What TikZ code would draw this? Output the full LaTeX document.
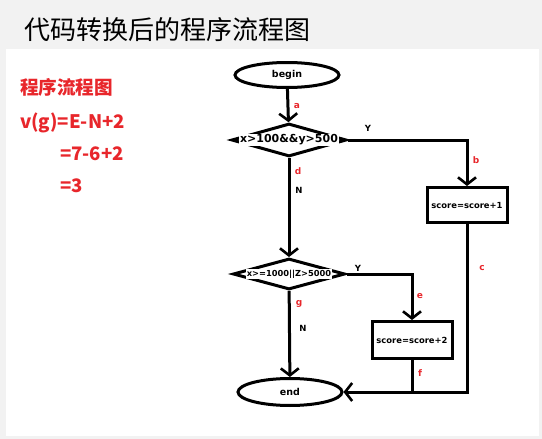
\documentclass[tikz,border=0pt]{standalone}
\usepackage{fontspec}
\setmainfont{DejaVu Sans}
\newfontfamily\cjk{Noto Sans CJK SC}
\usetikzlibrary{shapes.geometric, arrows.meta}
\definecolor{bggray}{HTML}{F2F2F2}
\definecolor{notered}{HTML}{E8262B}

\begin{document}
\begin{tikzpicture}[x=1pt, y=-1pt,
    line/.style={line width=3pt},
    flow/.style={line, -{Straight Barb[length=7pt, width=18pt, line width=2.6pt]}},
    terminal/.style={ellipse, draw, line width=3pt, inner sep=0pt, font=\bfseries\fontsize{9.5}{10}\selectfont},
    decision/.style={diamond, draw, line width=3pt, inner sep=0pt},
    condtext/.style={fill=white, inner sep=0.6pt, font=\bfseries\fontsize{#1}{12}\selectfont},
    process/.style={rectangle, draw, line width=3pt, inner sep=0pt, minimum width=80pt, font=\bfseries\fontsize{8.4}{10}\selectfont},
    edgelabel/.style={text=notered, font=\bfseries\fontsize{9}{10}\selectfont},
    branch/.style={font=\bfseries\fontsize{8.5}{10}\selectfont},
    notes/.style={text=notered, anchor=base west, font=\cjk\bfseries\fontsize{18.6}{20}\selectfont}]
    \useasboundingbox (0,0) rectangle (542,439);

    % page
    \fill[bggray] (0,0) rectangle (542,439);
    \fill[white] (6,49) rectangle (539,436);
    \node[anchor=base west, inner sep=0pt, font=\cjk\fontsize{26}{28}\selectfont] (title) at (24,39) {代码转换后的程序流程图};

    % notes
    \node[notes, inner sep=0pt] (n1) at (20,94) {程序流程图};
    \node[notes, inner sep=0pt] (n2) at (20,128) {v(g)=E-N+2};
    \node[notes, inner sep=0pt] (n3) at (60,160) {=7-6+2};
    \node[notes, inner sep=0pt] (n4) at (60,192) {=3};

    % nodes
    \node[terminal, minimum width=104pt, minimum height=25pt] (begin) at (287,75) {begin};
    \node[decision, minimum width=115pt, minimum height=33pt] (cond1) at (289,140) {};
    \node[condtext=11] (cond1txt) at (cond1) {x>100\&\&y>500};
    \node[process, minimum height=35pt] (box1) at (467,205) {score=score+1};
    \node[decision, minimum width=112pt, minimum height=31pt] (cond2) at (289,274) {};
    \node[condtext=8.3] (cond2txt) at (cond2) {x>=1000||Z>5000};
    \node[process, minimum height=37pt] (box2) at (412,340) {score=score+2};
    \node[terminal, minimum width=104pt, minimum height=27pt] (end) at (290,392) {end};

    % connectors
    \draw[flow] (begin) -- (cond1);
    \draw[flow] (cond1.east) -| (box1.north);
    \draw[flow] (cond1) -- (cond2);
    \draw[flow] (cond2.east) -| (box2.north);
    \draw[flow] (cond2) -- (end);
    \draw[flow] (box1.south) |- (end.east);
    \draw[line] (box2.south) -- (box2.south |- end.east);

    % labels
    \node[edgelabel] (la) at (297,106) {a};
    \node[branch] (y1) at (368,128) {Y};
    \node[edgelabel] (lb) at (476,160) {b};
    \node[edgelabel] (lc) at (482,268) {c};
    \node[edgelabel] (ld) at (298,171) {d};
    \node[branch] (n1b) at (299,190) {N};
    \node[branch] (y2) at (358,268) {Y};
    \node[edgelabel] (le) at (420,296) {e};
    \node[edgelabel] (lf) at (420,373) {f};
    \node[edgelabel] (lg) at (299,304) {g};
    \node[branch] (n2b) at (303,328) {N};
\end{tikzpicture}
\end{document}
